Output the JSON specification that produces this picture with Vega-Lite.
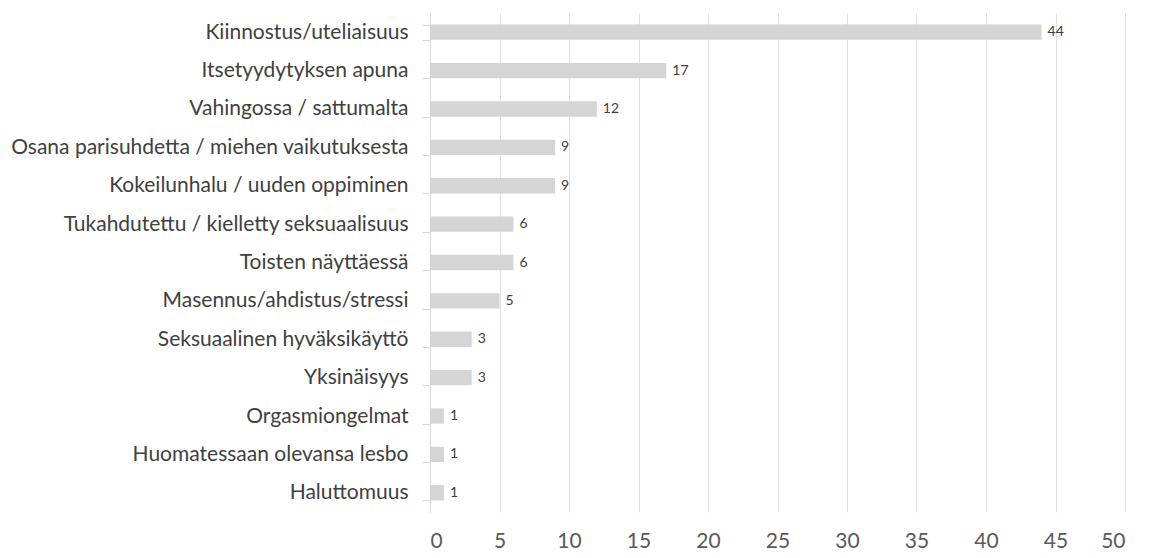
{
  "$schema": "https://vega.github.io/schema/vega-lite/v6.json",
  "width": 695,
  "height": 499,
  "autosize": {"type": "none"},
  "padding": {"left": 430, "top": 13, "right": 25, "bottom": 46},
  "background": "white",
  "config": {
    "view": {"stroke": null},
    "font": "Lato"
  },
  "data": {
    "values": [
      {"syy": "Kiinnostus/uteliaisuus", "n": 44},
      {"syy": "Itsetyydytyksen apuna", "n": 17},
      {"syy": "Vahingossa / sattumalta", "n": 12},
      {"syy": "Osana parisuhdetta / miehen vaikutuksesta", "n": 9},
      {"syy": "Kokeilunhalu / uuden oppiminen", "n": 9},
      {"syy": "Tukahdutettu / kielletty seksuaalisuus", "n": 6},
      {"syy": "Toisten näyttäessä", "n": 6},
      {"syy": "Masennus/ahdistus/stressi", "n": 5},
      {"syy": "Seksuaalinen hyväksikäyttö", "n": 3},
      {"syy": "Yksinäisyys", "n": 3},
      {"syy": "Orgasmiongelmat", "n": 1},
      {"syy": "Huomatessaan olevansa lesbo", "n": 1},
      {"syy": "Haluttomuus", "n": 1}
    ]
  },
  "encoding": {
    "y": {
      "field": "syy",
      "type": "nominal",
      "sort": null,
      "title": null,
      "scale": {"paddingInner": 0.6, "paddingOuter": 0.3},
      "axis": {
        "domainColor": "#d9d9d9",
        "tickColor": "#d9d9d9",
        "tickSize": 8,
        "tickBand": "extent",
        "labelPadding": 14,
        "labelFontSize": 21,
        "labelColor": "#404040",
        "labelLimit": 500,
        "grid": false
      }
    },
    "x": {
      "field": "n",
      "type": "quantitative",
      "title": null,
      "scale": {"domain": [0, 50]},
      "axis": {
        "values": [0, 5, 10, 15, 20, 25, 30, 35, 40, 45, 50],
        "domain": false,
        "ticks": false,
        "grid": true,
        "gridColor": "#e0e0e0",
        "labelFontSize": 21,
        "labelColor": "#595959",
        "labelPadding": 18
      }
    }
  },
  "layer": [
    {"mark": {"type": "bar", "color": "#d5d5d5"}},
    {
      "mark": {"type": "text", "align": "left", "dx": 6, "fontSize": 14, "color": "#404040"},
      "encoding": {"text": {"field": "n", "type": "quantitative"}}
    }
  ]
}
